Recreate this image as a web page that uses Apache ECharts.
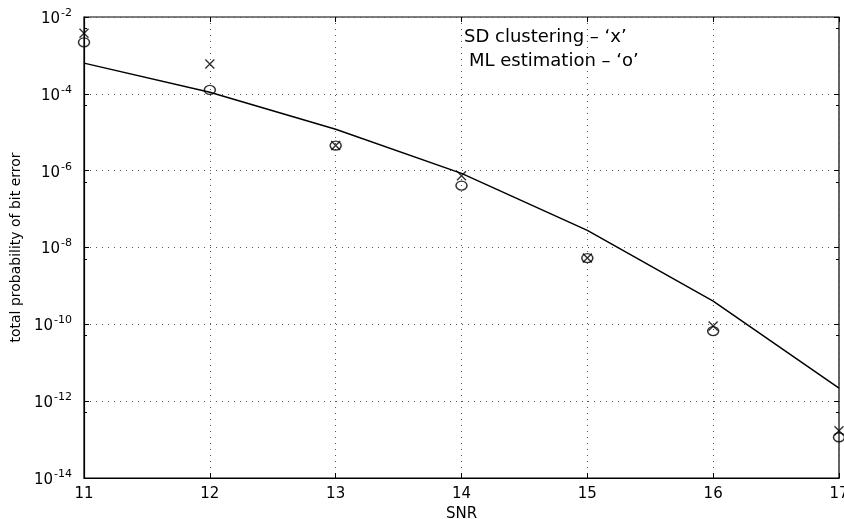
<!DOCTYPE html>
<html>
<head>
<meta charset="utf-8">
<script src="https://cdn.jsdelivr.net/npm/echarts@6/dist/echarts.min.js"></script>
<style>
  html, body { margin: 0; padding: 0; background: #fff; }
  #ber { width: 844px; height: 519px; }
</style>
</head>
<body>
<div id="ber"></div>
<script>
// SNR values (x axis)
const snr = [11, 12, 13, 14, 15, 16, 17]
// theoretical curve (solid line)
const theory = [6.3e-4, 1.1e-4, 1.2e-5, 8.5e-7, 2.8e-8, 4.0e-10, 2.2e-12]
// SD clustering - 'x'
const sdClustering = [3.8e-3, 6.0e-4, 4.5e-6, 7.4e-7, 5.3e-9, 9.0e-11, 1.7e-13]
// ML estimation - 'o'
const mlEstimation = [2.2e-3, 1.26e-4, 4.5e-6, 4.1e-7, 5.3e-9, 6.7e-11, 1.15e-13]

const fontFamily = 'DejaVu Sans, Liberation Sans, sans-serif'
const crossPath = 'path://M0,0L10,10M10,0L0,10'

const pairs = (ys) => snr.map((x, i) => [x, ys[i]])

const chart = echarts.init(document.getElementById('ber'))

const option = {
  animation: false,
  backgroundColor: '#fff',
  grid: {
    left: 84,
    right: 5,
    top: 17,
    bottom: 41,
    outerBoundsMode: 'none',
    show: true,
    borderColor: '#000',
    borderWidth: 1.2
  },
  xAxis: [
    {
      type: 'value',
      min: 11,
      max: 17,
      interval: 1,
      name: 'SNR',
      nameLocation: 'middle',
      nameGap: 25,
      nameTextStyle: { color: '#000', fontSize: 15, fontFamily },
      axisLine: { lineStyle: { color: '#000', width: 1.2 } },
      axisTick: { inside: true, length: 5, lineStyle: { color: '#000' } },
      axisLabel: { color: '#000', fontSize: 15, fontFamily, margin: 9 },
      splitLine: { show: true, lineStyle: { color: '#555', type: [1, 5], width: 1 } }
    },
    {
      type: 'value',
      position: 'top',
      min: 11,
      max: 17,
      interval: 1,
      axisLine: { show: false },
      axisTick: { inside: true, length: 5, lineStyle: { color: '#000' } },
      axisLabel: { show: false },
      splitLine: { show: false }
    }
  ],
  yAxis: [
    {
      type: 'log',
      logBase: 10,
      min: 1e-14,
      max: 1e-2,
      interval: 2,
      name: 'total probability of bit error',
      nameLocation: 'middle',
      nameGap: 57,
      nameTextStyle: { color: '#000', fontSize: 14, fontFamily },
      axisLine: { show: true, lineStyle: { color: '#000', width: 1.2 } },
      axisTick: { inside: true, length: 5, lineStyle: { color: '#000' } },
      minorTick: { show: true, splitNumber: 2, length: 3, lineStyle: { color: '#000' } },
      axisLabel: {
        margin: 12,
        formatter: (v) => '{b|10}{s|' + Math.round(Math.log10(v)) + '}',
        rich: {
          b: { fontSize: 15, color: '#000', fontFamily, padding: [4, 0, 0, 0] },
          s: { fontSize: 11, color: '#000', fontFamily, padding: [0, 0, 8, 1] }
        }
      },
      splitLine: { show: true, lineStyle: { color: '#555', type: [1, 5], width: 1 } }
    },
    {
      type: 'log',
      logBase: 10,
      min: 1e-14,
      max: 1e-2,
      interval: 2,
      position: 'right',
      axisLine: { show: false },
      axisTick: { inside: true, length: 5, lineStyle: { color: '#000' } },
      minorTick: { show: true, splitNumber: 2, length: 3, lineStyle: { color: '#000' } },
      axisLabel: { show: false },
      splitLine: { show: false }
    }
  ],
  series: [
    {
      name: 'theory',
      type: 'line',
      data: pairs(theory),
      symbol: 'none',
      lineStyle: { color: '#000', width: 1.5 },
      z: 3
    },
    {
      name: 'SD clustering',
      type: 'scatter',
      data: pairs(sdClustering),
      symbol: crossPath,
      symbolSize: 9,
      itemStyle: { color: 'none', borderColor: '#000', borderWidth: 1.4 },
      z: 4
    },
    {
      name: 'ML estimation',
      type: 'scatter',
      data: pairs(mlEstimation),
      symbol: 'circle',
      symbolSize: [11, 9],
      itemStyle: { color: 'none', borderColor: '#000', borderWidth: 1.4 },
      z: 4
    }
  ],
  graphic: [
    {
      type: 'text',
      left: 464,
      top: 28,
      style: { text: 'SD clustering \u2013 \u2018x\u2019', fill: '#000', fontSize: 18, fontFamily }
    },
    {
      type: 'text',
      left: 469,
      top: 52,
      style: { text: 'ML estimation \u2013 \u2018o\u2019', fill: '#000', fontSize: 18, fontFamily }
    }
  ]
}

chart.setOption(option, true)
window.addEventListener('resize', () => {
  chart.resize()
})
</script>
</body>
</html>
